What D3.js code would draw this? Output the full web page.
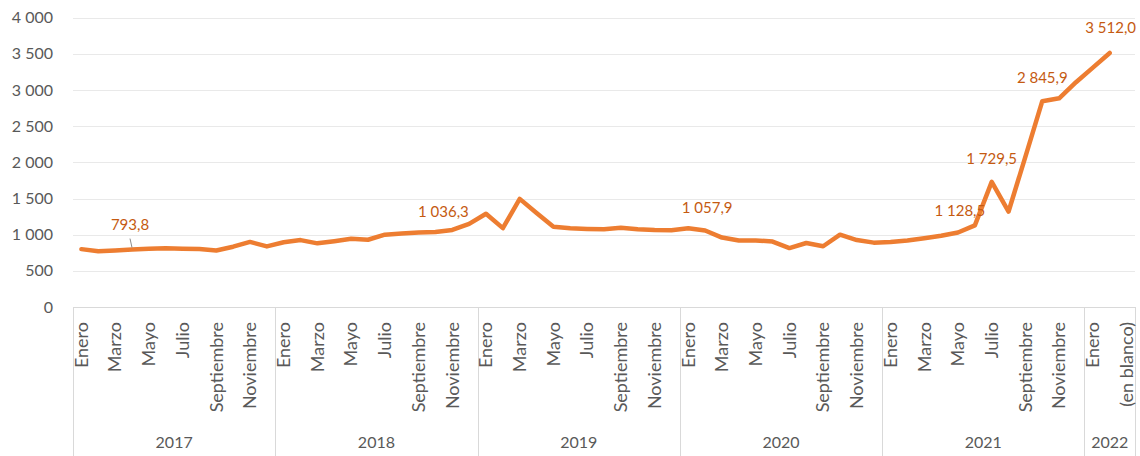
<!DOCTYPE html>
<html>
<head>
<meta charset="utf-8">
<script src="https://cdn.jsdelivr.net/npm/d3@7"></script>
<style>
  body { margin: 0; background: #fff; }
  svg text { font-family: Lato, "Open Sans", sans-serif; }
</style>
</head>
<body>
<div id="chart"></div>
<script>
// categories
const meses = ["Enero", "Febrero", "Marzo", "Abril", "Mayo", "Junio", "Julio", "Agosto", "Septiembre", "Octubre", "Noviembre", "Diciembre"];
const meses2022 = ["Enero", "Febrero", "(en blanco)"];
const anios = ["2017", "2018", "2019", "2020", "2021", "2022"];

// values (one array per year)
const v2017 = [800, 770, 780, 793.8, 806, 811, 806, 802, 782, 834, 900, 838];
const v2018 = [895, 925, 880, 910, 945, 930, 1000, 1015, 1030, 1036.3, 1065, 1150];
const v2019 = [1290, 1090, 1495, 1300, 1110, 1090, 1080, 1075, 1095, 1075, 1065, 1062];
const v2020 = [1088, 1057.9, 960, 920, 920, 905, 815, 885, 840, 1000, 925, 890];
const v2021 = [900, 920, 950, 985, 1030, 1128.5, 1729.5, 1320, 2080, 2845.9, 2885, 3108];
const v2022 = [3310, 3512.0, null];

const yTicks = [0, 500, 1000, 1500, 2000, 2500, 3000, 3500, 4000];

// which points carry a data label (index in the flat series)
const etiquetas = [3, 21, 37, 53, 54, 57, 61];

const width = 1140, height = 456;
const margin = {left: 73, right: 5, top: 17.7, bottom: 149};

// build flat series
let rows = [];
const porAnio = [v2017, v2018, v2019, v2020, v2021, v2022];
porAnio.forEach(function (vals, k) {
    const nombres = anios[k] === "2022" ? meses2022 : meses;
    vals.forEach(function (v, j) {
        rows.push({i: rows.length, mes: nombres[j], anio: anios[k], value: v});
    });
});

const es = d3.formatLocale({decimal: ",", thousands: "\u00a0", grouping: [3], currency: ["", ""]});
const fmtLabel = es.format(",.1f");
const fmtTick = es.format(",.0f");

const svg = d3.select("#chart").append("svg")
    .attr("width", width)
    .attr("height", height);

const x = d3.scaleBand()
    .domain(rows.map(d => d.i))
    .range([margin.left, width - margin.right])
    .padding(0);

const y = d3.scaleLinear()
    .domain([0, 4000])
    .range([height - margin.bottom, margin.top]);

// gridlines
svg.append("g")
    .selectAll("line")
    .data(yTicks)
    .enter()
    .append("line")
    .attr("x1", margin.left)
    .attr("x2", width - margin.right)
    .attr("y1", d => Math.round(y(d)) + 0.5)
    .attr("y2", d => Math.round(y(d)) + 0.5)
    .style("stroke", d => d === 0 ? "#d9d9d9" : "#e9e9e9")
    .style("stroke-width", 1);

// y tick labels
svg.append("g")
    .selectAll("text")
    .data(yTicks)
    .enter()
    .append("text")
    .attr("x", 53)
    .attr("y", d => y(d))
    .attr("dy", "0.35em")
    .attr("text-anchor", "end")
    .style("font-size", "16px")
    .style("fill", "#595959")
    .text(d => fmtTick(d));

// year separators
let grupos = anios.map(function (a) {
    const r = rows.filter(d => d.anio === a);
    return {anio: a, x0: x(r[0].i), x1: x(r[r.length - 1].i) + x.bandwidth()};
});
let bordes = grupos.map(g => g.x0);
bordes.push(grupos[grupos.length - 1].x1);

svg.append("g")
    .selectAll("line")
    .data(bordes)
    .enter()
    .append("line")
    .attr("x1", d => Math.round(d) + 0.5)
    .attr("x2", d => Math.round(d) + 0.5)
    .attr("y1", y(0))
    .attr("y2", height)
    .style("stroke", "#d9d9d9")
    .style("stroke-width", 1);

// month labels (every other category)
svg.append("g")
    .selectAll("text")
    .data(rows.filter(d => d.i % 2 === 0))
    .enter()
    .append("text")
    .attr("transform", d => "translate(" + (x(d.i) + x.bandwidth() / 2) + "," + (y(0) + 15) + ") rotate(-90)")
    .attr("dy", "0.35em")
    .attr("text-anchor", "end")
    .style("font-size", "18px")
    .style("fill", "#595959")
    .text(d => d.mes);

// year labels
svg.append("g")
    .selectAll("text")
    .data(grupos)
    .enter()
    .append("text")
    .attr("x", d => (d.x0 + d.x1) / 2)
    .attr("y", 448)
    .attr("text-anchor", "middle")
    .style("font-size", "16px")
    .style("fill", "#595959")
    .text(d => d.anio);

// the line
const line = d3.line()
    .defined(d => d.value !== null)
    .x(d => x(d.i) + x.bandwidth() / 2)
    .y(d => y(d.value));

svg.append("path")
    .datum(rows)
    .attr("d", line)
    .style("fill", "none")
    .style("stroke", "#ed7d31")
    .style("stroke-width", 4.5)
    .style("stroke-linejoin", "round")
    .style("stroke-linecap", "round");

// data labels (offsets as placed in the original)
const desplaz = {3: [-2, -20], 21: [8, -15], 37: [2, -17], 53: [-15, -9], 54: [0, -18], 57: [0, -18], 61: [1, -20]};
const lab = rows.filter(d => etiquetas.indexOf(d.i) >= 0);

// leader line for the first label
const p0 = rows[3];
svg.append("line")
    .attr("x1", x(p0.i) + x.bandwidth() / 2 - 2)
    .attr("y1", y(p0.value) - 11)
    .attr("x2", x(p0.i) + x.bandwidth() / 2)
    .attr("y2", y(p0.value) - 2)
    .style("stroke", "#8c8c8c")
    .style("stroke-width", 1);

svg.append("g")
    .selectAll("text")
    .data(lab)
    .enter()
    .append("text")
    .attr("x", d => x(d.i) + x.bandwidth() / 2 + desplaz[d.i][0])
    .attr("y", d => y(d.value) + desplaz[d.i][1])
    .attr("text-anchor", "middle")
    .style("font-size", "15px")
    .style("fill", "#c55a11")
    .text(d => fmtLabel(d.value));
</script>
</body>
</html>
